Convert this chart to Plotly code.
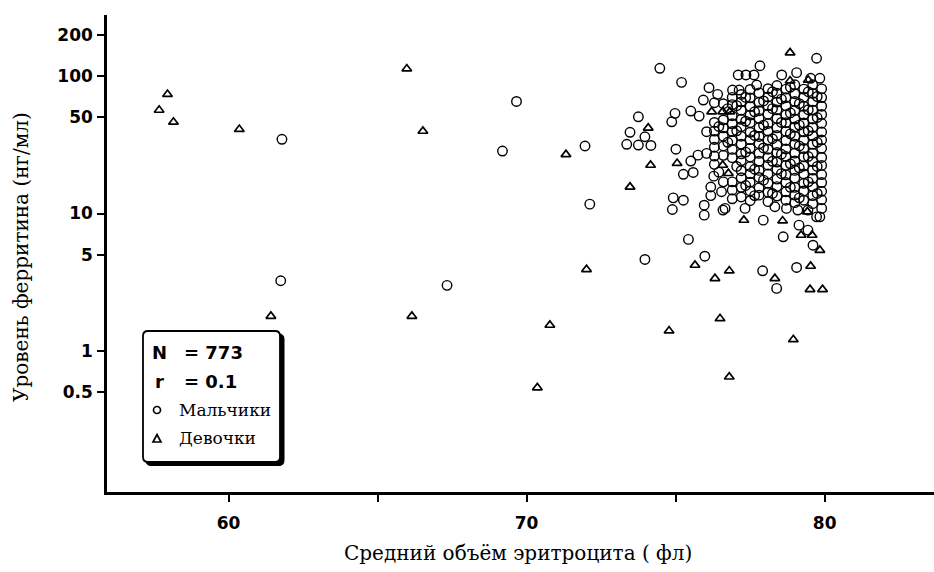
import plotly.graph_objects as go

# Boys (circles) outside the dense block: MCV (fl) and ferritin (ng/ml)
boys_mcv_outer = [61.79, 61.75, 67.33, 69.19, 69.66, 71.96, 72.12, 73.97,
                  74.47, 75.20, 73.75, 74.98, 74.87, 75.51, 75.79,
                  73.47, 73.97, 73.36, 73.75, 74.17,
                  75.01, 76.04, 75.51, 75.75, 76.04, 75.26, 75.59,
                  76.12, 76.41, 75.93,
                  74.92, 75.26, 74.89, 75.96, 75.96, 76.18, 76.18, 76.54, 76.59, 75.43, 76.28,
                  75.98, 77.92, 78.39, 79.06,
                  76.66, 77.33, 77.94, 78.33, 78.72, 79.10, 79.44, 79.73, 79.84, 79.14, 79.44, 78.61, 79.61,
                  77.10, 77.36, 77.63, 77.83, 78.56, 79.06, 79.73, 79.53, 79.84, 77.72, 76.91, 77.13]
boys_ferritin_outer = [34.7, 3.24, 3.0, 28.5, 65.4, 31.0, 11.7, 4.63,
                       114, 90.1, 50.6, 53.6, 46.5, 55.7, 51.2,
                       39.0, 36.2, 31.9, 31.5, 31.3,
                       29.4, 39.4, 24.1, 26.6, 27.4, 19.3, 19.9,
                       82.4, 73.7, 67.0,
                       13.0, 12.5, 10.7, 11.5, 9.73, 15.6, 13.5, 14.4, 10.6, 6.48, 18.7,
                       4.89, 3.83, 2.85, 4.05,
                       10.9, 10.9, 8.95, 11.2, 10.9, 10.6, 10.6, 9.46, 9.46, 8.23, 7.57, 6.77, 5.88,
                       102, 102, 102, 119, 102, 106, 135, 96.4, 96.4, 86.1, 79.2, 79.2]

# Boys in the dense block, grouped by MCV column
block_mcv = [76.3, 76.6, 76.9, 77.2, 77.5, 77.8, 78.1, 78.4, 78.7, 79.0, 79.3, 79.6, 79.9]
block_ferritin = [
    [22.8, 26.2, 30.4, 34.6, 39.8, 46, 64],
    [17, 26.5, 31, 36.5, 42, 48, 63],
    [12.8, 14.8, 17, 25.5, 29.3, 34, 39.5, 45, 51.5, 62, 70],
    [13.2, 15.5, 18.2, 20.5, 24.2, 27.2, 32, 36.5, 42.8, 48.5, 56.5, 65, 73.5],
    [12.4, 14.6, 16.9, 19.5, 22, 25.8, 29.8, 34.5, 39, 45.8, 52, 60, 69.5, 80],
    [13.6, 15.4, 18.3, 20.6, 24, 27.4, 32.2, 36.4, 42.2, 49.3, 56, 64.5, 75.5],
    [12.2, 14.3, 16.6, 19.4, 22.5, 25.5, 29.4, 34.3, 39.8, 45.2, 52.8, 61, 70.5, 81],
    [13.4, 15.7, 17.8, 20.9, 23.7, 27.8, 31.5, 37, 42, 49.2, 56.8, 64.7, 75, 85.5],
    [12.5, 14.4, 16.8, 19.1, 22.4, 26, 29.5, 34, 39.6, 45.8, 52.2, 60.8, 69.6, 80.5],
    [12, 13.6, 15.5, 18.1, 20.6, 24.1, 27.5, 32, 36.5, 42.6, 48.7, 56.2, 65.3, 74.5, 86.5],
    [12.5, 14.6, 16.6, 19.4, 22.2, 25.9, 29.7, 34.1, 39.3, 45.6, 52.3, 60.3, 70.2, 80.5],
    [11.8, 13.5, 15.7, 18, 20.7, 23.9, 27.5, 31.9, 36.8, 42.3, 48.8, 56.6, 65.2, 74.8, 86.5],
    [10.9, 12.6, 14.5, 16.8, 19.2, 22.4, 25.6, 29.8, 34.3, 39.2, 45.4, 52.6, 60.4, 69.8, 80.8],
]

# Boys lying between the block columns
between_mcv = [76.45, 76.75, 77.05, 77.35, 77.65, 77.95, 78.25, 78.55, 78.85, 79.15, 79.45, 79.75]
between_ferritin = [
    [20, 43],
    [33, 58],
    [22, 40, 61],
    [16, 28, 47, 70],
    [13.5, 21, 37, 55],
    [17.5, 30, 44, 66],
    [14, 24, 35, 58, 77],
    [19.5, 27, 46, 68],
    [15.5, 23, 38, 54, 83],
    [13, 21.5, 31, 44, 63],
    [17, 26, 40, 57, 77],
    [14, 22, 33, 50, 71],
]

# Girls (triangles)
girls_mcv = [57.67, 57.95, 58.15, 60.36, 61.42, 65.98, 66.15, 66.52, 70.36, 70.78,
             71.32, 72.01, 73.47, 74.08, 74.16, 74.78, 75.05, 75.65, 76.21, 76.58,
             76.82, 76.58, 76.77, 76.32, 76.49, 76.80, 76.80, 77.29, 78.33, 78.59,
             78.84, 78.84, 78.95, 79.21, 79.42, 79.45, 79.53, 79.51, 79.58, 79.84, 79.93]
girls_ferritin = [56.6, 73.7, 46.3, 41.0, 1.79, 113, 1.79, 39.8, 0.54, 1.54,
                  26.9, 3.92, 15.6, 42, 22.5, 1.40, 23.2, 4.21, 55.1, 55.1,
                  55.1, 22.5, 19.6, 3.37, 1.72, 3.83, 0.647, 8.95, 3.37, 8.85,
                  148, 92.5, 1.21, 6.96, 10.3, 93.7, 4.14, 2.80, 6.96, 5.41, 2.80]

x_tick_vals = [60, 65, 70, 75, 80]
x_tick_text = ["60", "", "70", "", "80"]
y_tick_vals = [0.5, 1, 5, 10, 50, 100, 200]
y_tick_text = ["0.5", "1", "5", "10", "50", "100", "200"]

n_total = 773
r_value = 0.1

boys_x = list(boys_mcv_outer)
boys_y = list(boys_ferritin_outer)
for mcv, column in list(zip(block_mcv, block_ferritin)) + list(zip(between_mcv, between_ferritin)):
    boys_x += [mcv] * len(column)
    boys_y += column

W, H = 934, 572
ML, MR, MT, MB = 107, 0, 15, 80
PW, PH = W - ML - MR, H - MT - MB


def to_paper(px, py):
    return (px - ML) / PW, (H - MB - py) / PH


def rounded_box_path(x0, y0, x1, y1, r):
    pts = [("M", [(x0 + r, y0)]), ("L", [(x1 - r, y0)]), ("Q", [(x1, y0), (x1, y0 + r)]),
           ("L", [(x1, y1 - r)]), ("Q", [(x1, y1), (x1 - r, y1)]), ("L", [(x0 + r, y1)]),
           ("Q", [(x0, y1), (x0, y1 - r)]), ("L", [(x0, y0 + r)]), ("Q", [(x0, y0), (x0 + r, y0)])]
    out = []
    for cmd, coords in pts:
        s = " ".join("%.5f,%.5f" % to_paper(px, py) for px, py in coords)
        out.append(cmd + " " + s)
    return " ".join(out) + " Z"


fig = go.Figure()
fig.add_trace(go.Scatter(
    x=boys_x, y=boys_y, mode="markers", name="Мальчики",
    marker=dict(symbol="circle-open", size=9.5, color="black", line=dict(width=1.4)),
))
fig.add_trace(go.Scatter(
    x=girls_mcv, y=girls_ferritin, mode="markers", name="Девочки",
    marker=dict(symbol="triangle-up-open", size=8.5, color="black", line=dict(width=1.7)),
))

tick_font = dict(family="DejaVu Sans", size=17, color="black", weight="bold")
fig.update_layout(
    width=W, height=H,
    margin=dict(l=ML, r=MR, t=MT, b=MB, pad=0),
    paper_bgcolor="white", plot_bgcolor="white",
    showlegend=False,
    xaxis=dict(range=[55.92, 83.67], showline=True, linewidth=2.5, linecolor="black",
               ticks="outside", ticklen=7, tickwidth=2, tickcolor="black",
               tickvals=x_tick_vals, ticktext=x_tick_text, tickfont=tick_font,
               ticklabelstandoff=7, showgrid=False, zeroline=False),
    yaxis=dict(type="log", range=[-1.027, 2.445], showline=True, linewidth=2.5, linecolor="black",
               ticks="outside", ticklen=7, tickwidth=2, tickcolor="black",
               tickvals=y_tick_vals, ticktext=y_tick_text, tickfont=tick_font,
               ticklabelstandoff=1, showgrid=False, zeroline=False),
)

# Statistics box with a drop shadow
shapes = [
    dict(type="path", xref="paper", yref="paper", path=rounded_box_path(146, 334, 284, 465.5, 5),
         fillcolor="black", line=dict(color="black", width=1)),
    dict(type="path", xref="paper", yref="paper", path=rounded_box_path(143, 331, 280, 462, 5),
         fillcolor="white", line=dict(color="black", width=1.8)),
]
cx0, cy0 = to_paper(153.5, 406.5)
cx1, cy1 = to_paper(160.5, 413.5)
shapes.append(dict(type="circle", xref="paper", yref="paper", x0=cx0, y0=cy1, x1=cx1, y1=cy0,
                   line=dict(color="black", width=1.7)))
tri = [to_paper(153, 442), to_paper(161, 442), to_paper(157, 434.5)]
shapes.append(dict(type="path", xref="paper", yref="paper",
                   path="M %.5f,%.5f L %.5f,%.5f L %.5f,%.5f Z" % (tri[0] + tri[1] + tri[2]),
                   line=dict(color="black", width=1.7)))
fig.update_layout(shapes=shapes)

bold_box = dict(family="DejaVu Sans", size=18, color="black", weight="bold")
serif = dict(family="DejaVu Serif", size=17, color="black")


def note(text, px, py, font, xanchor="left", angle=0):
    x, y = to_paper(px, py)
    fig.add_annotation(text=text, x=x, y=y, xref="paper", yref="paper", showarrow=False,
                       xanchor=xanchor, yanchor="middle", font=font, textangle=angle)


note("N", 150, 352, bold_box)
note("= %d" % n_total, 182, 352, bold_box)
note("r", 153, 381, bold_box)
note("= %s" % r_value, 182, 381, bold_box)
note("Мальчики", 177, 410, serif)
note("Девочки", 177, 438, serif)

title_font = dict(family="DejaVu Serif", size=20, color="black")
note("Средний объём эритроцита ( фл)", 518, 553, title_font, xanchor="center")
note("Уровень ферритина (нг/мл)", 21, 257, title_font, xanchor="center", angle=-90)

fig.write_html("out.html")
